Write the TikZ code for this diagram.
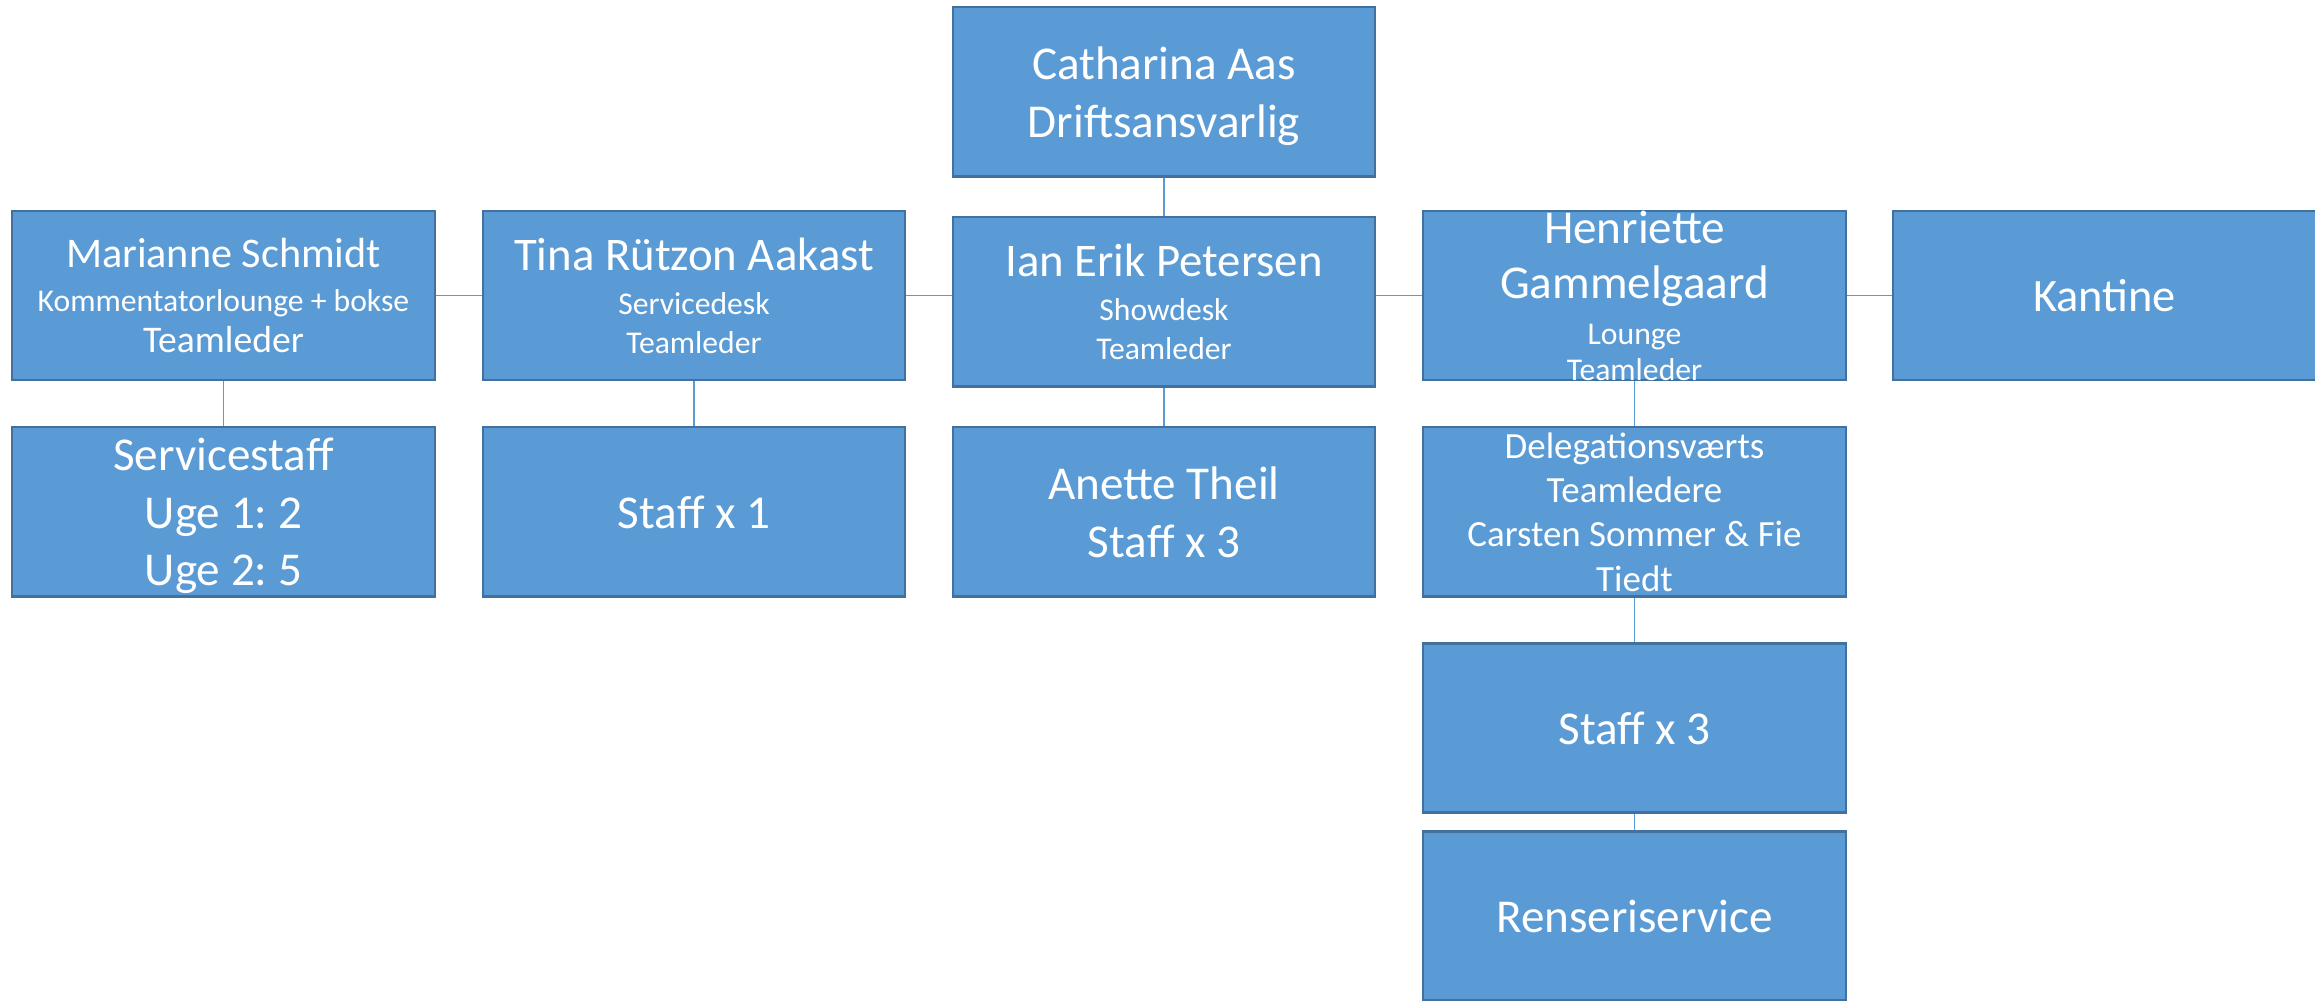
\documentclass[tikz,border=0pt]{standalone}
\usepackage{fontspec}
\setmainfont{Carlito}
\usepackage{tikz}
\frenchspacing

\definecolor{boxblue}{RGB}{91,155,213}
\definecolor{boxedge}{RGB}{65,113,156}
\newcommand{\namesize}{\fontsize{13.4}{16.3}\selectfont}
\newcommand{\subsize}{\fontsize{9}{11}\selectfont}

\tikzset{
    orgtext/.style={text=white, align=center, inner sep=0pt, text depth=0pt, font=\namesize},
    orgbox/.style={orgtext, rectangle, fill=boxblue, draw=boxedge, line width=0.6pt,
        minimum width=4.22cm, minimum height=1.69cm},
    orgline/.style={draw=boxblue, line width=0.5pt}
}

\begin{document}
\begin{tikzpicture}[x=0.01cm, y=-0.01cm]
        \useasboundingbox (0,0) rectangle (2315,1001);

        % Nodes
        \node[orgbox] (cath) at (1164,92) {Catharina Aas\\Driftsansvarlig};

        \node[orgbox, font=\fontsize{12}{12.5}\selectfont] (mar) at (223.5,295.5)
            {Marianne Schmidt\\\subsize Kommentatorlounge + bokse\\[-0.8pt]\fontsize{10.7}{12}\selectfont Teamleder};
        \node[orgbox, font=\fontsize{13.3}{12.5}\selectfont] (tina) at (694,295.5)
            {Tina Rützon Aakast\\\subsize Servicedesk\\[-1.5pt]\subsize Teamleder};
        \node[orgbox, font=\fontsize{13.3}{12.5}\selectfont] (ian) at (1164,302)
            {Ian Erik Petersen\\\subsize Showdesk\\[-1.5pt]\subsize Teamleder};
        \node[orgbox] (henr) at (1634.5,295.5) {};
        \node[orgtext, font=\fontsize{13.4}{15.8}\selectfont] (henrtext) at (henr)
            {Henriette\\Gammelgaard\\[-2.8pt]\subsize Lounge\\[-5.7pt]\subsize Teamleder};
        \node[orgbox, font=\fontsize{13.2}{16}\selectfont] (kant) at (2104.5,295.5) {Kantine};

        \node[orgbox, font=\fontsize{13.4}{16.4}\selectfont] (sstaff) at (223.5,512) {Servicestaff\\Uge 1: 2\\Uge 2: 5};
        \node[orgbox] (staff1) at (694,512) {Staff x 1};
        \node[orgbox] (anette) at (1164,512) {Anette Theil\\Staff x 3};
        \node[orgbox, font=\fontsize{10.5}{12.6}\selectfont] (deleg) at (1634.5,512)
            {Delegationsværts\\Teamledere\\Carsten Sommer \& Fie\\Tiedt};

        \node[orgbox] (staff3) at (1634.5,728) {Staff x 3};
        \node[orgbox] (rense) at (1634.5,916) {Renseriservice};

        % Edges
        \draw[orgline] (cath.south) -- (ian.north);
        \draw[orgline] (mar.east) -- (tina.west);
        \draw[orgline] (tina.east) -- (tina.east -| ian.west);
        \draw[orgline] (henr.west -| ian.east) -- (henr.west);
        \draw[orgline] (henr.east) -- (kant.west);

        \foreach \top/\bot in {mar/sstaff, tina/staff1, ian/anette, henr/deleg, deleg/staff3, staff3/rense} {
            \draw[orgline] (\top.south) -- (\bot.north);
        }
\end{tikzpicture}
\end{document}
